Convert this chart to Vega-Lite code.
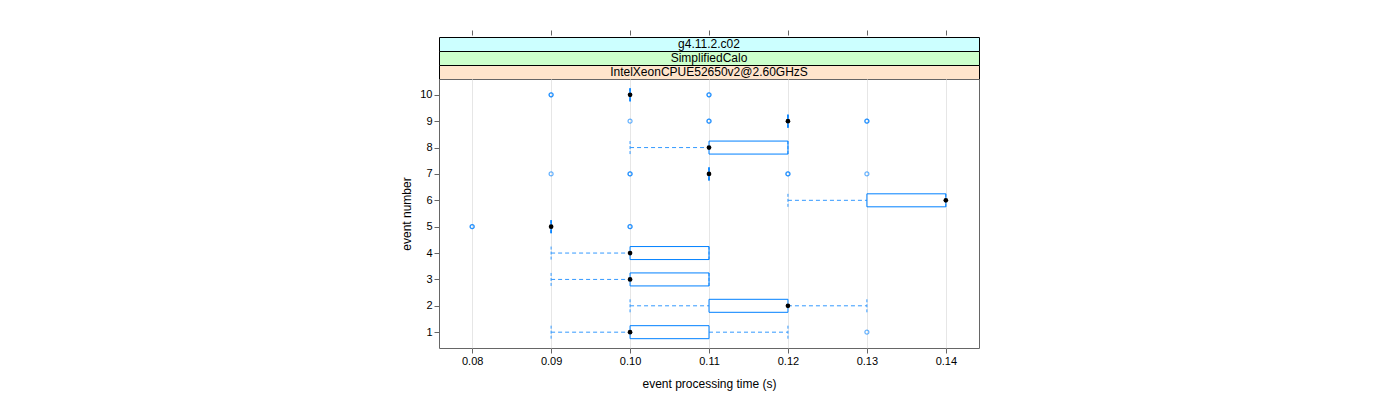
{
  "$schema": "https://vega.github.io/schema/vega-lite/v6.json",
  "padding": {"left": 400, "top": 29, "right": 5, "bottom": 5},
  "background": "white",
  "spacing": 0,
  "bounds": "flush",
  "config": {
    "font": "Liberation Sans",
    "view": {"stroke": null},
    "axis": {
      "labelFont": "Liberation Sans",
      "titleFont": "Liberation Sans",
      "labelFontSize": 11,
      "titleFontSize": 12,
      "titleFontWeight": "normal",
      "labelColor": "black",
      "titleColor": "black",
      "tickColor": "#666666",
      "tickSize": 5,
      "labelPadding": 2,
      "domain": false
    }
  },
  "datasets": {
    "boxes": [
      {"event": 1, "lo": 0.09, "q1": 0.10, "med": 0.10, "q3": 0.11, "hi": 0.12},
      {"event": 2, "lo": 0.10, "q1": 0.11, "med": 0.12, "q3": 0.12, "hi": 0.13},
      {"event": 3, "lo": 0.09, "q1": 0.10, "med": 0.10, "q3": 0.11, "hi": 0.11},
      {"event": 4, "lo": 0.09, "q1": 0.10, "med": 0.10, "q3": 0.11, "hi": 0.11},
      {"event": 5, "lo": 0.09, "q1": 0.09, "med": 0.09, "q3": 0.09, "hi": 0.09},
      {"event": 6, "lo": 0.12, "q1": 0.13, "med": 0.14, "q3": 0.14, "hi": 0.14},
      {"event": 7, "lo": 0.11, "q1": 0.11, "med": 0.11, "q3": 0.11, "hi": 0.11},
      {"event": 8, "lo": 0.10, "q1": 0.11, "med": 0.11, "q3": 0.12, "hi": 0.12},
      {"event": 9, "lo": 0.12, "q1": 0.12, "med": 0.12, "q3": 0.12, "hi": 0.12},
      {"event": 10, "lo": 0.10, "q1": 0.10, "med": 0.10, "q3": 0.10, "hi": 0.10}
    ],
    "outliers": [
      {"event": 1, "time": 0.13},
      {"event": 5, "time": 0.08},
      {"event": 5, "time": 0.08},
      {"event": 5, "time": 0.10},
      {"event": 5, "time": 0.10},
      {"event": 7, "time": 0.09},
      {"event": 7, "time": 0.10},
      {"event": 7, "time": 0.10},
      {"event": 7, "time": 0.12},
      {"event": 7, "time": 0.12},
      {"event": 7, "time": 0.13},
      {"event": 9, "time": 0.10},
      {"event": 9, "time": 0.11},
      {"event": 9, "time": 0.11},
      {"event": 9, "time": 0.13},
      {"event": 9, "time": 0.13},
      {"event": 10, "time": 0.09},
      {"event": 10, "time": 0.09},
      {"event": 10, "time": 0.11},
      {"event": 10, "time": 0.11}
    ]
  },
  "vconcat": [
    {
      "width": 540, "height": 14,
      "view": {"fill": "#ccffff", "stroke": "black", "strokeWidth": 1},
      "layer": [
        {
          "data": {"name": "boxes"},
          "mark": {"type": "point", "opacity": 0},
          "encoding": {
            "x": {"field": "med", "type": "quantitative",
                  "scale": {"domain": [0.0758, 0.1442], "nice": false, "zero": false, "padding": 0},
                  "axis": {"orient": "top", "values": [0.08, 0.09, 0.10, 0.11, 0.12, 0.13, 0.14], "labels": false,
                           "grid": false, "title": null, "offset": 2}}
          }
        },
        {
          "data": {"values": [{"label": "g4.11.2.c02"}]},
          "mark": {"type": "text", "fontSize": 12, "color": "black", "font": "Liberation Sans"},
          "encoding": {"text": {"field": "label"}}
        }
      ]
    },
    {
      "width": 540, "height": 14,
      "view": {"fill": "#ccffcc", "stroke": "black", "strokeWidth": 1},
      "data": {"values": [{"label": "SimplifiedCalo"}]},
      "mark": {"type": "text", "fontSize": 12, "color": "black", "font": "Liberation Sans"},
      "encoding": {"text": {"field": "label"}}
    },
    {
      "width": 540, "height": 14,
      "view": {"fill": "#ffe5cc", "stroke": "black", "strokeWidth": 1},
      "data": {"values": [{"label": "IntelXeonCPUE52650v2@2.60GHzS"}]},
      "mark": {"type": "text", "fontSize": 12, "color": "black", "font": "Liberation Sans"},
      "encoding": {"text": {"field": "label"}}
    },
    {
      "width": 540, "height": 269,
      "view": {"fill": "white", "stroke": "#666666", "strokeWidth": 1},
      "layer": [
        {
          "data": {"name": "boxes"},
          "mark": {"type": "rule", "color": "#3399ff", "strokeDash": [4, 3], "strokeWidth": 1},
          "encoding": {
            "x": {"field": "lo", "type": "quantitative",
                  "scale": {"domain": [0.0758, 0.1442], "nice": false, "zero": false, "padding": 0},
                  "axis": {"orient": "bottom", "values": [0.08, 0.09, 0.10, 0.11, 0.12, 0.13, 0.14], "format": ".2f",
                           "grid": true, "gridColor": "#e6e6e6", "gridWidth": 1, "labelOverlap": false,
                           "title": "event processing time (s)", "titlePadding": 12}},
            "x2": {"field": "q1"},
            "y": {"field": "event", "type": "quantitative",
                  "scale": {"domain": [0.4, 10.6], "nice": false, "zero": false, "padding": 0},
                  "axis": {"tickCount": 10, "format": "d", "grid": false,
                           "labelOverlap": false,
                           "title": "event number", "titlePadding": 6}}
          }
        },
        {
          "data": {"name": "boxes"},
          "mark": {"type": "rule", "color": "#3399ff", "strokeDash": [4, 3], "strokeWidth": 1},
          "encoding": {
            "x": {"field": "q3", "type": "quantitative"},
            "x2": {"field": "hi"},
            "y": {"field": "event", "type": "quantitative"}
          }
        },
        {
          "data": {"name": "boxes"},
          "mark": {"type": "point", "shape": "M0,-1V1", "size": 169, "filled": false, "color": "#3399ff", "strokeWidth": 1, "strokeDash": [3, 2], "opacity": 1},
          "encoding": {
            "x": {"field": "lo", "type": "quantitative"},
            "y": {"field": "event", "type": "quantitative"}
          }
        },
        {
          "data": {"name": "boxes"},
          "mark": {"type": "point", "shape": "M0,-1V1", "size": 169, "filled": false, "color": "#3399ff", "strokeWidth": 1, "strokeDash": [3, 2], "opacity": 1},
          "encoding": {
            "x": {"field": "hi", "type": "quantitative"},
            "y": {"field": "event", "type": "quantitative"}
          }
        },
        {
          "data": {"name": "boxes"},
          "mark": {"type": "bar", "orient": "horizontal", "size": 13, "fill": "transparent", "stroke": "#0080ff", "strokeWidth": 1},
          "encoding": {
            "x": {"field": "q1", "type": "quantitative"},
            "x2": {"field": "q3"},
            "y": {"field": "event", "type": "quantitative"}
          }
        },
        {
          "data": {"name": "outliers"},
          "mark": {"type": "point", "shape": "circle", "size": 16, "filled": false, "color": "#0080ff", "strokeWidth": 1.2, "opacity": 0.6},
          "encoding": {
            "x": {"field": "time", "type": "quantitative"},
            "y": {"field": "event", "type": "quantitative"}
          }
        },
        {
          "data": {"name": "boxes"},
          "mark": {"type": "point", "shape": "circle", "size": 22, "filled": true, "color": "black", "opacity": 1},
          "encoding": {
            "x": {"field": "med", "type": "quantitative"},
            "y": {"field": "event", "type": "quantitative"}
          }
        }
      ]
    }
  ]
}
